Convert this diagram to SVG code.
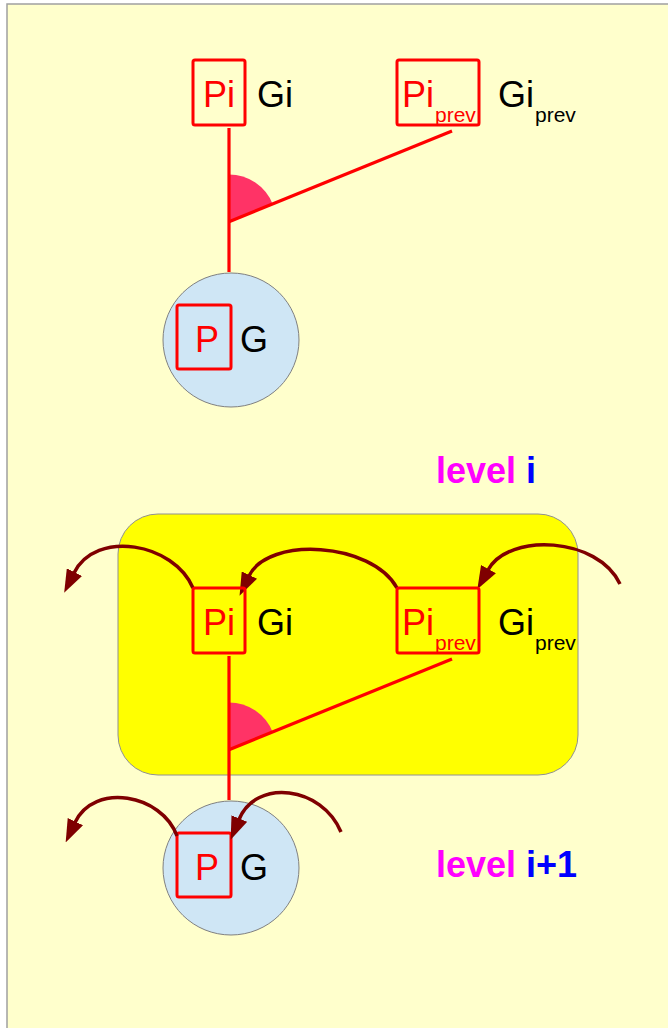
<svg xmlns="http://www.w3.org/2000/svg" width="668" height="1028" viewBox="0 0 668 1028">
<style>
.bg{fill:#ffffcc;stroke:#a0a0a0;stroke-width:1.5}
.box{fill:none;stroke:#ff0000;stroke-width:3;stroke-linejoin:round}
.rt{font-family:"Liberation Sans",Arial,sans-serif;font-size:36px;fill:#ff0000}
.bt{font-family:"Liberation Sans",Arial,sans-serif;font-size:36px;fill:#000000}
.sub{font-size:21px}
.circ{fill:#cfe6f5;stroke:#808080;stroke-width:1}
.line{stroke:#ff0000;stroke-width:3.2;fill:none}
.wedge{fill:#ff3366}
.arc{fill:none;stroke:#7f0000;stroke-width:3.5}
.lvl{font-family:"Liberation Sans",Arial,sans-serif;font-size:36px;font-weight:bold}
.yel{fill:#ffff00;stroke:#909090;stroke-width:1}
</style>
<defs>
<marker id="ah" viewBox="0 0 23 17" refX="1" refY="8.5" markerWidth="23" markerHeight="17" markerUnits="userSpaceOnUse" orient="auto">
<path d="M0,0 L23,8.5 L0,17 z" fill="#7f0000"/>
</marker>
</defs>
<rect class="bg" x="7" y="4" width="700" height="1100"/>

<g id="container-level-i">
<rect class="yel" x="118" y="514" width="460" height="261" rx="40" ry="40"/>
</g>

<g id="top-G">
<ellipse class="circ" cx="231" cy="340" rx="68" ry="67"/>
<rect class="box" x="177" y="305" width="54" height="64" rx="2"/>
<text class="rt" x="195" y="352">P</text>
<text class="bt" x="240" y="352">G</text>
</g>
<g id="bottom-G">
<ellipse class="circ" cx="231" cy="868" rx="68" ry="67"/>
<rect class="box" x="177" y="833" width="54" height="64" rx="2"/>
<text class="rt" x="195" y="880">P</text>
<text class="bt" x="240" y="880">G</text>
</g>

<g id="connectors">
<path class="wedge" d="M229,221.7 L229,174.5 A47,47 0 0 1 272.6,204 Z"/>
<line class="line" x1="229" y1="128" x2="229" y2="272"/>
<line class="line" x1="452" y1="131" x2="229" y2="221.7"/>
<path class="wedge" d="M229,749.7 L229,702.5 A47,47 0 0 1 272.6,732 Z"/>
<line class="line" x1="229" y1="656" x2="229" y2="800"/>
<line class="line" x1="452" y1="659" x2="229" y2="749.7"/>
<path class="arc" marker-end="url(#ah)" d="M193,588 C174,543 96,529 74,573"/>
<path class="arc" marker-end="url(#ah)" d="M397,588 C372,542 268,536 249,576"/>
<path class="arc" marker-end="url(#ah)" d="M620,584 C598,537 509,532 488,570"/>
<path class="arc" marker-end="url(#ah)" d="M177,836 C162,794 94,782 75,822.5"/>
<path class="arc" marker-end="url(#ah)" d="M341,832 C322,786 256,778 239,819.5"/>
</g>

<g id="top-Pi">
<rect class="box" x="193" y="60" width="52" height="65" rx="2"/>
<text class="rt" x="203" y="107">Pi</text>
<text class="bt" x="257" y="107">Gi</text>
</g>
<g id="top-Piprev">
<rect class="box" x="397" y="60" width="82" height="65" rx="2"/>
<text class="rt" x="402" y="107">Pi</text>
<text class="rt sub" x="435" y="122">prev</text>
<text class="bt" x="498" y="107">Gi</text>
<text class="bt sub" x="535" y="122">prev</text>
</g>

<g id="bottom-Pi">
<rect class="box" x="193" y="588" width="52" height="65" rx="2"/>
<text class="rt" x="203" y="635">Pi</text>
<text class="bt" x="257" y="635">Gi</text>
</g>
<g id="bottom-Piprev">
<rect class="box" x="397" y="588" width="82" height="65" rx="2"/>
<text class="rt" x="402" y="635">Pi</text>
<text class="rt sub" x="435" y="650">prev</text>
<text class="bt" x="498" y="635">Gi</text>
<text class="bt sub" x="535" y="650">prev</text>
</g>

<g id="label-level-i">
<text class="lvl" x="436" y="483"><tspan fill="#ff00ff">level</tspan> <tspan fill="#0000ff">i</tspan></text>
</g>
<g id="label-level-i1">
<text class="lvl" x="436" y="877"><tspan fill="#ff00ff">level</tspan> <tspan fill="#0000ff">i+1</tspan></text>
</g>
</svg>
